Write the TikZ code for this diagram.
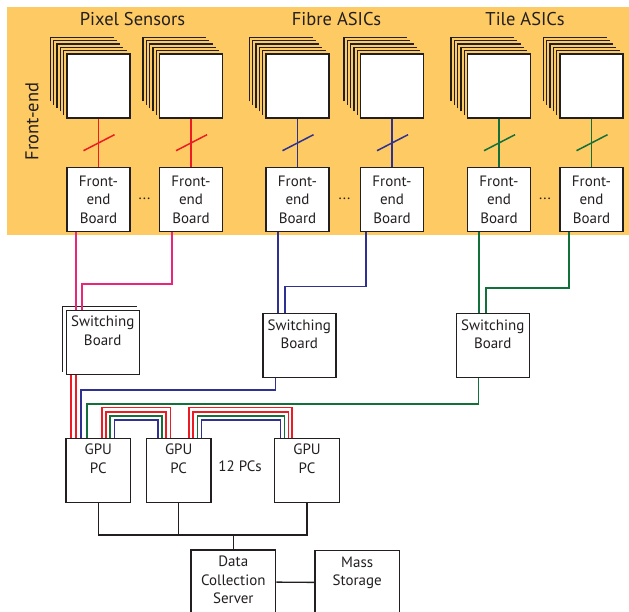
\documentclass[tikz,border=0pt]{standalone}
\usepackage{fontspec}
\setmainfont{PT Sans}
\usetikzlibrary{positioning}
\definecolor{bgorange}{RGB}{253,202,99}
\definecolor{inkgray}{RGB}{35,31,32}
\definecolor{pixred}{RGB}{237,28,36}
\definecolor{pixpink}{RGB}{234,38,122}
\definecolor{fibblue}{RGB}{46,49,146}
\definecolor{tilegreen}{RGB}{18,112,58}
\newcommand*\hdfont{\fontsize{18.5}{22}\selectfont}
\newcommand*\bxfont{\fontsize{15}{18.5}\selectfont}
\tikzset{
x=1pt, y=-1pt, % picture units: pixels, y going down
every node/.style={text=inkgray},
box/.style={draw=inkgray, line width=1.4pt, fill=white, inner sep=0pt,
  minimum width=63pt, minimum height=64pt, font=\bxfont, align=center},
toptext/.style={anchor=north, align=center, inner sep=2pt, yshift=-4.5pt, font=\bxfont, text=inkgray},
topbox/.style={box, label={[toptext]90:{#1}}},
stackline/.style={draw=inkgray, line width=1.3pt},
wire/.style={line width=1.5pt},
bus/.style={draw=inkgray, line width=1.4pt},
}
\begin{document}
\begin{tikzpicture}
\useasboundingbox (0,0) rectangle (629,612);
\fill[bgorange] (7,7) rectangle (629,235.5);

% headings
\node[font=\hdfont] (hpix) at (132.5,19) {Pixel Sensors};
\node[font=\hdfont] (hfib) at (336.5,19) {Fibre ASICs};
\node[font=\hdfont] (htile) at (525,19) {Tile ASICs};
\node[font=\hdfont, rotate=90] (hfe) at (32,121.5) {Front-end};

% sensors/ASICs with their front-end boards
\foreach \i/\cx/\lc in {1/98.5/pixred, 2/191/pixred, 3/297.5/fibblue,
                        4/392/fibblue, 5/499/tilegreen, 6/591.5/tilegreen}{
  \foreach \k in {5,4,...,1}
    \draw[stackline] (\cx-31.5-3.3*\k, 118-3.3*\k) |- (\cx+31.5-3.3*\k, 54-3.3*\k);
  \node[box] (sen\i) at (\cx,86) {};
  \node[box, below=48pt of sen\i] (fe\i) {Front-\\end\\Board};
  \draw[wire, \lc] (sen\i) -- coordinate (mid\i) (fe\i);
  \draw[wire, \lc] ([shift={(-15,8)}]mid\i) -- ++(31,-16);
}
\node[font=\bxfont] (dots1) at (144.5,199) {...};
\node[font=\bxfont] (dots2) at (344.5,199) {...};
\node[font=\bxfont] (dots3) at (545,199) {...};

% switching boards
\node[topbox={Switching\\Board}, minimum width=73pt] (sw1) at (102.7,342.2) {};
\node[topbox={Switching\\Board}, minimum width=73pt] (sw2) at (299.3,345.5) {};
\node[topbox={Switching\\Board}, minimum width=73pt] (sw3) at (492.7,345.5) {};
\draw[stackline] ([shift={(-3.3,-3.3)}]sw1.south west) |- ([shift={(-3.3,-3.3)}]sw1.north east);

\draw[wire, pixpink] ([xshift=9.7]fe1.south west) -- ([xshift=9.7]fe1.south west |- sw1.north);
\draw[wire, pixpink] ([xshift=13]fe2.south west) -- ++(0,51.7) -| ([xshift=16.7]sw1.north west);
\draw[wire, fibblue] ([xshift=12.7]fe3.south west) -- ([xshift=12.7]fe3.south west |- sw2.north);
\draw[wire, fibblue] ([xshift=6]fe4.south west) -- ++(0,54.3) -| ([xshift=23]sw2.north west);
\draw[wire, tilegreen] ([xshift=12.3]fe5.south west) -- ([xshift=12.3]fe5.south west |- sw3.north);
\draw[wire, tilegreen] ([xshift=9.7]fe6.south west) -- ++(0,56) -| ([xshift=30.7]sw3.north west);

% GPU farm
\node[topbox={GPU\\PC}, minimum width=64.7pt] (gpu1) at (98.3,470.3) {};
\node[topbox={GPU\\PC}, minimum width=64.7pt] (gpu2) at (178.7,470.3) {};
\node[topbox={GPU\\PC}, minimum width=64.7pt] (gpu3) at (307,470.3) {};
\node[font=\bxfont] (npcs) at (240,466.7) {12 PCs};

\draw[wire, pixred] ([xshift=5.5]sw1.south west) -- ([xshift=5.5]sw1.south west |- gpu1.north);
\draw[wire, pixred] ([xshift=10.5]sw1.south west) -- ([xshift=10.5]sw1.south west |- gpu1.north);
\draw[wire, fibblue] ([xshift=13.3]sw2.south west) -- ++(0,11.6) -| ([xshift=15.7]gpu1.north west);
\draw[wire, tilegreen] ([xshift=23]sw3.south west) -- ++(0,25.6) -| ([xshift=21.7]gpu1.north west);

\foreach \p/\q/\a/\b/\h/\c in {gpu1/gpu2/36.7/41.4/30/pixred, gpu1/gpu2/40.7/45.7/25.6/pixred,
    gpu1/gpu2/44.7/49.7/21.6/tilegreen, gpu1/gpu2/49/54/17.6/fibblue,
    gpu2/gpu3/43.3/48/30/pixred, gpu2/gpu3/47.3/51.7/25.6/pixred,
    gpu2/gpu3/51.6/55.7/21.6/tilegreen, gpu2/gpu3/55.6/59.7/17.6/fibblue}
  \draw[wire, \c] ([xshift=\a]\p.north west) -- ++(0,-\h) -| ([xshift=-\b]\q.north east);

% data collection
\node[topbox={Data\\Collection\\Server}, minimum width=84.7pt] (dcs) at (233.3,582) {};
\node[topbox={Mass\\Storage}, minimum width=84.3pt] (mass) at (357.2,582.5) {};

\draw[bus] (gpu1.south) -- ++(0,32) coordinate (b1) -| (gpu3.south);
\draw[bus] (gpu2.south) -- (gpu2.south |- b1);
\draw[bus] (dcs.north) -- (dcs.north |- b1);
\draw[bus] (dcs) -- (mass);
\end{tikzpicture}
\end{document}
